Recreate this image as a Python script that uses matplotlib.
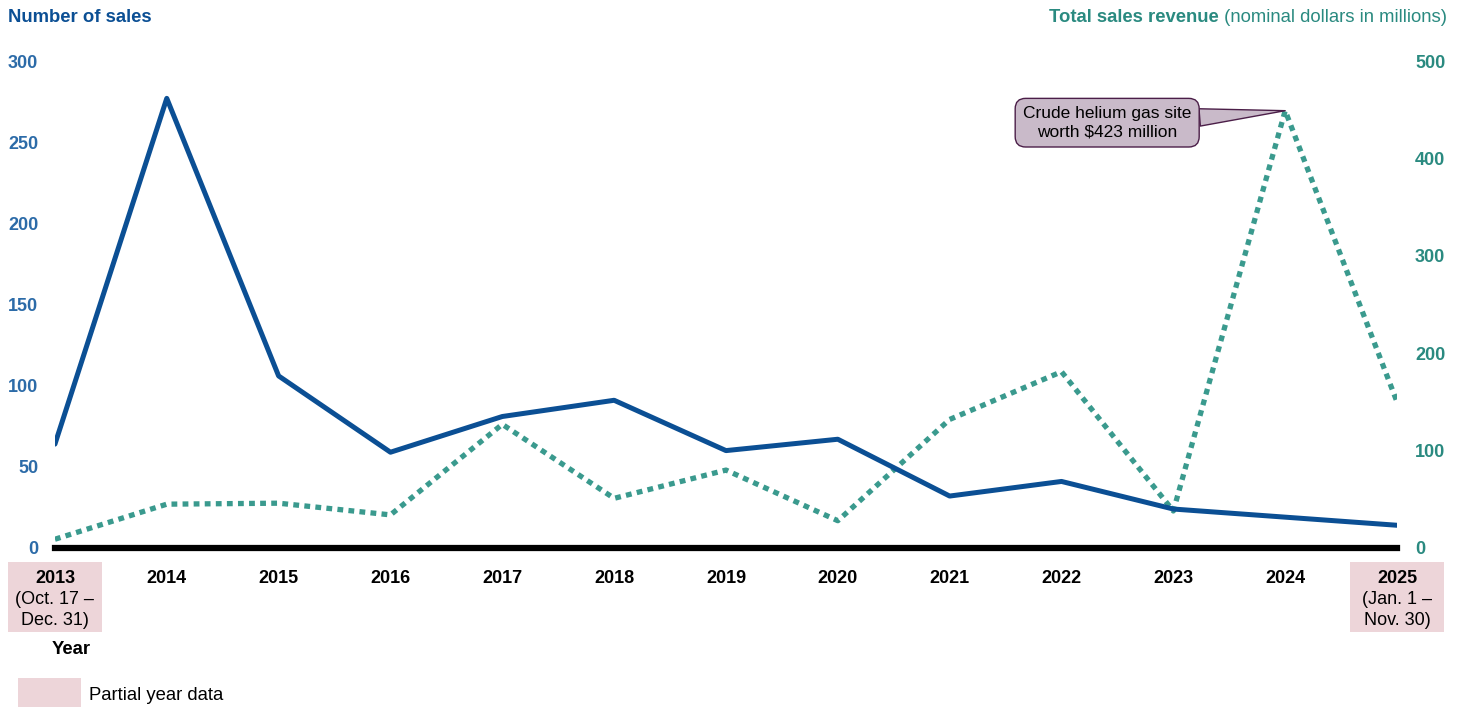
import matplotlib.pyplot as plt
from matplotlib.patches import Rectangle
from matplotlib.transforms import blended_transform_factory

plt.rcParams['font.family'] = ['Liberation Sans', 'DejaVu Sans']

# %% data
years = [2013, 2014, 2015, 2016, 2017, 2018, 2019, 2020, 2021, 2022, 2023, 2024, 2025]
num_sales = [64, 277, 106, 59, 81, 91, 60, 67, 32, 41, 24, 19, 14]
revenue = [9, 45, 46, 34, 127, 51, 80, 28, 132, 181, 38, 449, 150]
partial_years = {2013: "(Oct. 17 \u2013\nDec. 31)", 2025: "(Jan. 1 \u2013\nNov. 30)"}

blue = '#0B4F94'
blue_tick = '#2C6BA8'
teal = '#3A9A8E'
teal_text = '#2A8A80'
pink = '#EDD5D9'

# %% figure
fig = plt.figure(figsize=(14.65, 7.07), dpi=100)
ax = fig.add_axes([0.0375, 0.2249, 0.9161, 0.6888])
ax2 = ax.twinx()

ax2.plot(years, revenue, color=teal, lw=3.8, dashes=(1.1, 1.0), zorder=2)
ax.plot(years, num_sales, color=blue, lw=3.6, zorder=3, solid_capstyle='round')
ax.set_zorder(ax2.get_zorder() + 1)
ax.patch.set_visible(False)

ax.set_xlim(2013, 2025)
ax.set_ylim(0, 300)
ax2.set_ylim(0, 498)
ax.set_yticks([0, 50, 100, 150, 200, 250, 300])
ax2.set_yticks([0, 100, 200, 300, 400, 500])

for a in (ax, ax2):
    for s in a.spines.values():
        s.set_visible(False)
ax.spines['bottom'].set_visible(True)
ax.spines['bottom'].set_color('black')
ax.spines['bottom'].set_linewidth(4.5)
ax.spines['bottom'].set_zorder(5)

ax.tick_params(axis='y', length=0, pad=12, labelcolor=blue_tick, labelsize=13)
ax2.tick_params(axis='y', length=0, pad=13, labelcolor=teal_text, labelsize=13)
for lab in ax.get_yticklabels() + ax2.get_yticklabels():
    lab.set_fontweight('bold')

ax.set_xticks(years)
ax.set_xticklabels([str(y) for y in years], fontweight='bold', fontsize=13)
ax.tick_params(axis='x', length=0, pad=16)

# partial year boxes + sub labels
tr = blended_transform_factory(ax.transData, ax.transAxes)
for yr, txt in partial_years.items():
    ax.add_patch(Rectangle((yr - 0.42, -0.1725), 0.84, 0.144, transform=tr,
                           facecolor=pink, edgecolor='none', clip_on=False, zorder=0))
    ax.text(yr, -0.127, txt, transform=tr, ha='center', va='center', fontsize=13,
            linespacing=1.35)

# annotation
ax2.annotate("Crude helium gas site\nworth $423 million", xy=(2024, revenue[11]),
             xytext=(-178, -12), textcoords='offset pixels', ha='center', va='center',
             fontsize=12.5, linespacing=1.25,
             bbox=dict(boxstyle='round,pad=0.45,rounding_size=0.6', fc='#C9BAC9', ec='#4B1E48', lw=1),
             arrowprops=dict(arrowstyle='wedge,tail_width=1.0', fc='#C9BAC9', ec='#4B1E48', lw=1,
                             relpos=(0.95, 0.62), shrinkA=0, shrinkB=0),
             zorder=6)

# titles
fig.text(8 / 1465, 1 - 18 / 707, "Number of sales", color=blue, fontweight='bold',
         fontsize=13.3, ha='left', va='center')
t = fig.text(1447 / 1465, 1 - 18 / 707, " (nominal dollars in millions)", color=teal_text,
             fontsize=13.3, ha='right', va='center')
ax.annotate("Total sales revenue", xy=(0, 0.5), xycoords=t, ha='right', va='center',
            color=teal_text, fontweight='bold', fontsize=13.3, annotation_clip=False)

# year label and legend
fig.text(71 / 1465, 1 - 650 / 707, "Year", fontweight='bold', fontsize=13.3, ha='center', va='center')
fig.add_artist(Rectangle((18 / 1465, 0), 63 / 1465, 29 / 707, transform=fig.transFigure,
                         facecolor=pink, edgecolor='none'))
fig.text(89 / 1465, 1 - 695 / 707, "Partial year data", fontsize=13.3, ha='left', va='center')

fig.savefig('out.png', dpi=100)
